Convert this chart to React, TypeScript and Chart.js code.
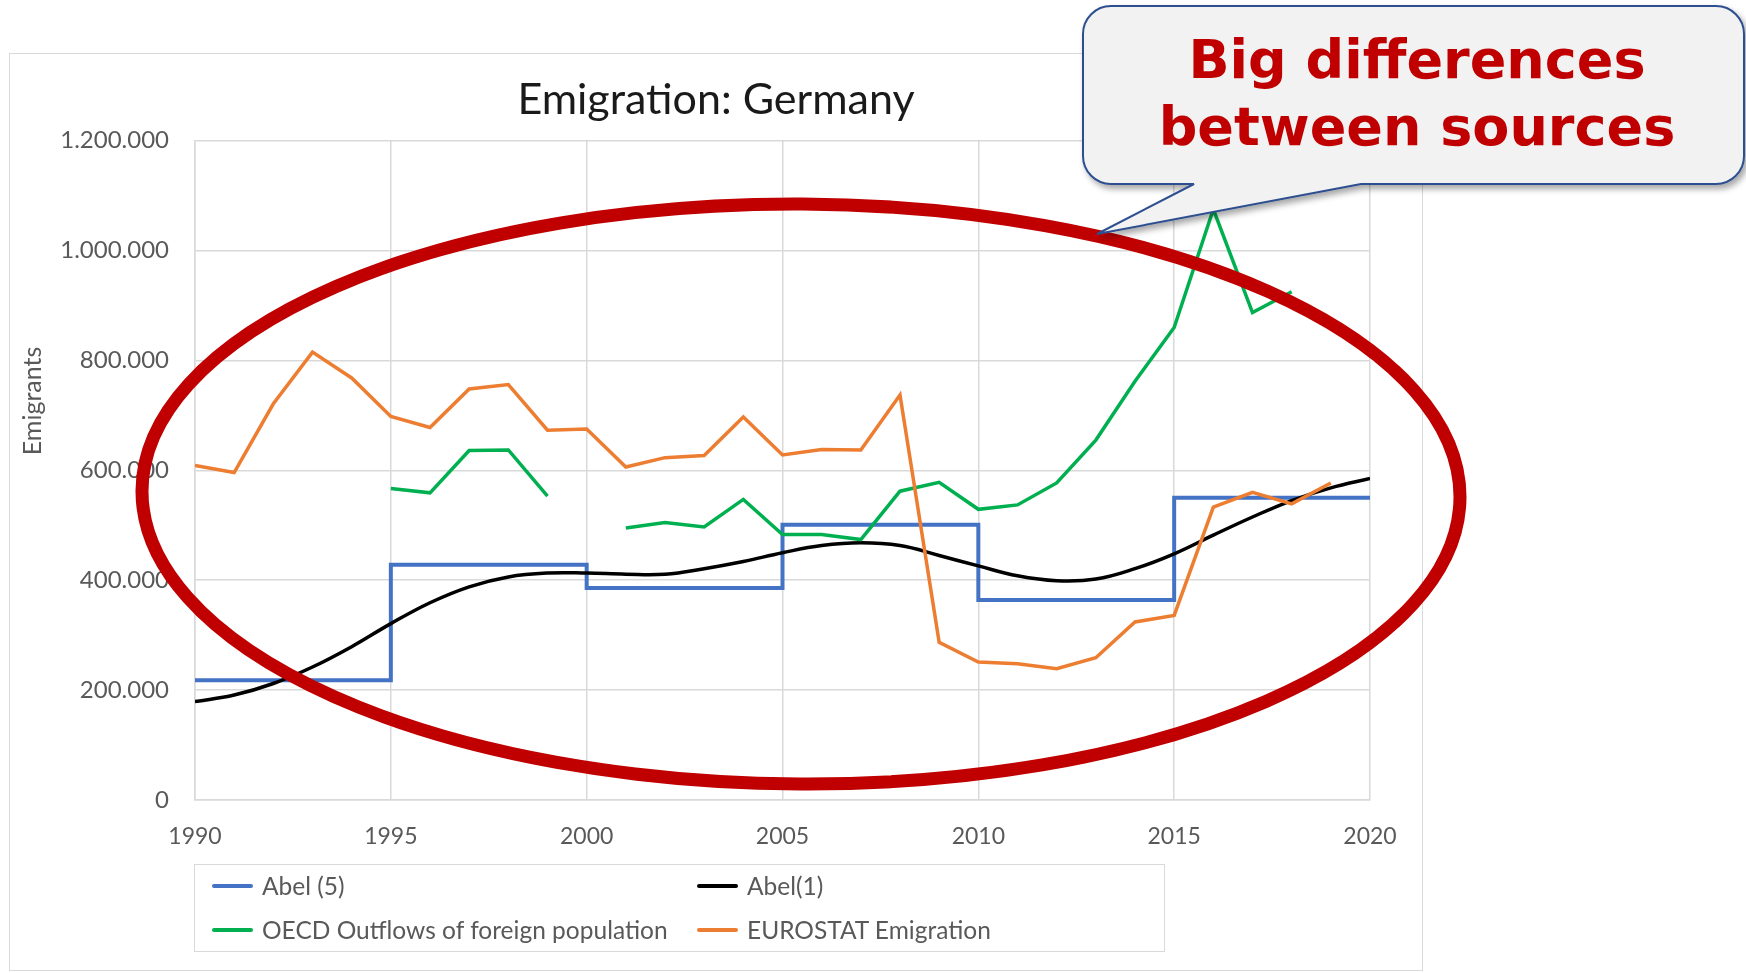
import React, { useEffect, useRef } from "react";
import { Chart, registerables } from "chart.js";

Chart.register(...registerables);

// ---------- DATA ----------
const years = [
  1990, 1991, 1992, 1993, 1994, 1995, 1996, 1997, 1998, 1999,
  2000, 2001, 2002, 2003, 2004, 2005, 2006, 2007, 2008, 2009,
  2010, 2011, 2012, 2013, 2014, 2015, 2016, 2017, 2018, 2019, 2020,
];

// Abel (5): five-year period estimates, drawn as steps
const abel5Years = [1990, 1995, 2000, 2005, 2010, 2015, 2020];
const abel5Values = [218000, 428000, 386000, 501000, 364000, 550000, 550000];

// Abel(1): annual estimates (smoothed line)
const abel1Values = [
  179000, 191000, 212000, 242000, 279000, 321000, 359000, 388000, 406000, 413000,
  413000, 411000, 411000, 421000, 434000, 450000, 463000, 468000, 463000, 445000,
  426000, 408000, 399000, 402000, 421000, 448000, 482000, 515000, 545000, 568000, 585000,
];

// OECD Outflows of foreign population
const oecdValues = [
  null, null, null, null, null, 567000, 559000, 636000, 637000, 553000,
  null, 495000, 505000, 497000, 547000, 483000, 483000, 474000, 562000, 578000,
  529000, 537000, 577000, 655000, 762000, 860000, 1075000, 887000, 925000, null, null,
];

// EUROSTAT Emigration
const eurostatValues = [
  609000, 596000, 721000, 815000, 768000, 698000, 678000, 748000, 756000, 673000,
  675000, 606000, 623000, 627000, 697000, 628000, 638000, 637000, 737000, 287000,
  251000, 248000, 239000, 259000, 324000, 336000, 533000, 560000, 539000, 577000, null,
];

const seriesNames = [
  "Abel (5)",
  "Abel(1)",
  "OECD Outflows of foreign population",
  "EUROSTAT Emigration",
];
const seriesColors = ["#4472C4", "#000000", "#00B050", "#ED7D31"];

const chartTitle = "Emigration: Germany";
const yAxisTitle = "Emigrants";
const calloutLines = ["Big differences", "between sources"];

const yMin = 0;
const yMax = 1200000;
const yStep = 200000;
const xMin = 1990;
const xMax = 2020;
const xStep = 5;

const fmtThousands = (v: number) =>
  String(Math.round(v)).replace(/\B(?=(\d{3})+(?!\d))/g, ".");

const toPoints = (xs: number[], ys: (number | null)[]) =>
  xs.map((x, i) => ({ x, y: ys[i] }));

const FONT = "Lato, 'Open Sans', sans-serif";

export default function App() {
  const canvasRef = useRef<HTMLCanvasElement | null>(null);

  useEffect(() => {
    const canvas = canvasRef.current;
    if (!canvas) return;

    const yTitlePlugin = {
      id: "yTitleCustom",
      afterDraw(chart: any) {
        const ctx = chart.ctx;
        ctx.save();
        ctx.translate(24, 348);
        ctx.rotate(-Math.PI / 2);
        ctx.font = `25px ${FONT}`;
        ctx.fillStyle = "#595959";
        ctx.textAlign = "center";
        ctx.textBaseline = "middle";
        ctx.fillText(yAxisTitle, 0, 0);
        ctx.restore();
      },
    };

    const chart = new Chart(canvas, {
      type: "line",
      data: {
        datasets: [
          {
            label: seriesNames[3],
            data: toPoints(years, eurostatValues),
            borderColor: seriesColors[3],
            backgroundColor: seriesColors[3],
            borderWidth: 3.5,
            pointRadius: 0,
            tension: 0,
            spanGaps: false,
          },
          {
            label: seriesNames[2],
            data: toPoints(years, oecdValues),
            borderColor: seriesColors[2],
            backgroundColor: seriesColors[2],
            borderWidth: 3.5,
            pointRadius: 0,
            tension: 0,
            spanGaps: false,
          },
          {
            label: seriesNames[1],
            data: toPoints(years, abel1Values),
            borderColor: seriesColors[1],
            backgroundColor: seriesColors[1],
            borderWidth: 3.5,
            pointRadius: 0,
            tension: 0.4,
          },
          {
            label: seriesNames[0],
            data: toPoints(abel5Years, abel5Values),
            borderColor: seriesColors[0],
            backgroundColor: seriesColors[0],
            borderWidth: 4,
            pointRadius: 0,
            stepped: "before",
          },
        ],
      },
      options: {
        animation: false,
        responsive: false,
        maintainAspectRatio: false,
        layout: { padding: { left: 53, right: 53, top: 0, bottom: 111 } },
        plugins: {
          legend: { display: false },
          tooltip: { enabled: false },
          title: {
            display: true,
            text: chartTitle,
            color: "#1a1a1a",
            font: { family: FONT, size: 43, weight: "normal", lineHeight: 1.2 },
            padding: { top: 21, bottom: 15 },
          },
        },
        scales: {
          x: {
            type: "linear",
            min: xMin,
            max: xMax,
            afterFit: (scale: any) => {
              scale.height = 60;
            },
            ticks: {
              stepSize: xStep,
              color: "#595959",
              font: { family: FONT, size: 23 },
              padding: 23,
              maxRotation: 0,
              callback: (v: any) => String(v),
            },
            grid: { color: "#d9d9d9", lineWidth: 1.5, drawTicks: false },
            border: { display: true, color: "#d9d9d9", width: 1.5 },
          },
          y: {
            type: "linear",
            min: yMin,
            max: yMax,
            afterFit: (scale: any) => {
              scale.width = 133;
            },
            ticks: {
              stepSize: yStep,
              color: "#595959",
              font: { family: FONT, size: 24 },
              padding: 26,
              callback: (v: any) => fmtThousands(Number(v)),
            },
            grid: { color: "#d9d9d9", lineWidth: 1.5, drawTicks: false },
            border: { display: true, color: "#d9d9d9", width: 1.5 },
          },
        },
      },
      plugins: [yTitlePlugin],
    } as any);

    return () => chart.destroy();
  }, []);

  const legendItems = [
    { name: seriesNames[0], color: seriesColors[0], left: 17, top: 21 },
    { name: seriesNames[1], color: seriesColors[1], left: 502, top: 21 },
    { name: seriesNames[2], color: seriesColors[2], left: 17, top: 65 },
    { name: seriesNames[3], color: seriesColors[3], left: 502, top: 65 },
  ];

  const r = 28;
  const bx0 = 1083, by0 = 6, bx1 = 1744, by1 = 184;
  const calloutPath = [
    `M ${bx0 + r} ${by0}`,
    `H ${bx1 - r}`,
    `A ${r} ${r} 0 0 1 ${bx1} ${by0 + r}`,
    `V ${by1 - r}`,
    `A ${r} ${r} 0 0 1 ${bx1 - r} ${by1}`,
    `H 1361`,
    `L 1097 234`,
    `L 1194 ${by1}`,
    `H ${bx0 + r}`,
    `A ${r} ${r} 0 0 1 ${bx0} ${by1 - r}`,
    `V ${by0 + r}`,
    `A ${r} ${r} 0 0 1 ${bx0 + r} ${by0}`,
    `Z`,
  ].join(" ");

  return (
    <div
      style={{
        position: "fixed",
        left: 0,
        top: 0,
        width: 1746,
        height: 973,
        background: "#ffffff",
        overflow: "hidden",
      }}
    >
      <div
        style={{
          position: "absolute",
          left: 9,
          top: 53,
          width: 1414,
          height: 918,
          border: "1.5px solid #d9d9d9",
          boxSizing: "border-box",
        }}
      />
      <canvas
        ref={canvasRef}
        width={1414}
        height={918}
        style={{ position: "absolute", left: 9, top: 53 }}
      />
      <div
        style={{
          position: "absolute",
          left: 194,
          top: 864,
          width: 971,
          height: 88,
          border: "1.5px solid #d9d9d9",
          boxSizing: "border-box",
          fontFamily: FONT,
        }}
      >
        {legendItems.map((it) => (
          <React.Fragment key={it.name}>
            <div
              style={{
                position: "absolute",
                left: it.left,
                top: it.top - 2,
                width: 41,
                height: 4,
                background: it.color,
                borderRadius: 2,
              }}
            />
            <div
              style={{
                position: "absolute",
                left: it.left + 50,
                top: it.top - 15,
                height: 30,
                lineHeight: "30px",
                fontSize: 24.5,
                color: "#595959",
                whiteSpace: "nowrap",
              }}
            >
              {it.name}
            </div>
          </React.Fragment>
        ))}
      </div>
      <svg
        width={1746}
        height={973}
        style={{ position: "absolute", left: 0, top: 0, pointerEvents: "none" }}
      >
        <defs>
          <filter id="shadow" x="-10%" y="-10%" width="130%" height="140%">
            <feDropShadow dx="3" dy="4" stdDeviation="3" floodColor="#000" floodOpacity="0.35" />
          </filter>
        </defs>
        <ellipse
          cx={801}
          cy={494}
          rx={659}
          ry={290}
          fill="none"
          stroke="#C00000"
          strokeWidth={13}
          transform="rotate(0.3 801 494)"
        />
        <path
          d={calloutPath}
          fill="#F2F2F2"
          stroke="#2F4F8F"
          strokeWidth={2}
          filter="url(#shadow)"
        />
        <text
          x={1417}
          y={78}
          textAnchor="middle"
          fontFamily="'DejaVu Sans', sans-serif"
          fontWeight="bold"
          fontSize={54}
          fill="#C00000"
        >
          {calloutLines[0]}
        </text>
        <text
          x={1417}
          y={145}
          textAnchor="middle"
          fontFamily="'DejaVu Sans', sans-serif"
          fontWeight="bold"
          fontSize={54}
          fill="#C00000"
        >
          {calloutLines[1]}
        </text>
      </svg>
    </div>
  );
}
